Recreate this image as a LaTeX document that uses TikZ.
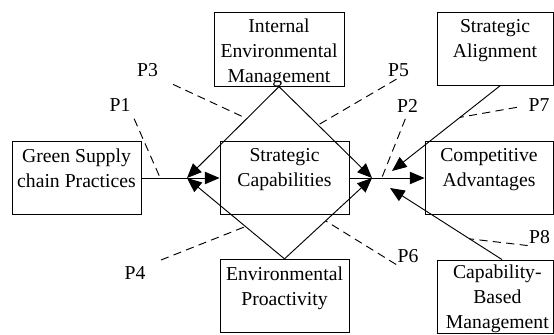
\documentclass[tikz,border=0pt]{standalone}
\usepackage{fontspec}
\setmainfont{Liberation Serif}
\usetikzlibrary{arrows.meta}

\tikzset{
  box/.style     = {shape = rectangle, draw = black, line width = 0.8pt,
                    minimum width = #1, minimum height = 2.2cm, inner sep = 0pt},
  box/.default   = 3.87cm,
  boxtext/.style = {anchor = north, align = center, inner sep = 0pt, yshift = -6.5pt},
  prop/.style    = {inner sep = 1pt},
  arr/.style     = {-{Triangle[length = 12.5pt, width = 10.5pt]}, line width = 0.8pt},
  link/.style    = {dashed, dash pattern = on 7pt off 4.5pt, line width = 0.8pt},
}

\begin{document}
\begin{tikzpicture}[x = 0.03cm, y = -0.03cm, font = \fontsize{16.8}{21.5}\selectfont]
        \useasboundingbox (0, 0) rectangle (554, 335);

        % ------------------------------------------------------------------------
        % Boxes
        \node[box]         at (76.5, 178)    (gscp)  {};
        \node[boxtext]     at (gscp.north)   (gscpt) {Green Supply\\chain Practices};

        \node[box]         at (284.5, 178)   (sc)    {};
        \node[boxtext]     at (sc.north)     (sct)   {Strategic\\Capabilities};

        \node[box = 3.9cm] at (279, 49.5)    (iem)   {};
        \node[boxtext, yshift = 1.5pt] at (iem.north) (iemt) {Internal\\Environmental\\Management};

        \node[box = 3.48cm] at (495, 48.7)   (sa)    {};
        \node[boxtext]     at (sa.north)     (sat)   {Strategic\\Alignment};

        \node[box = 3.84cm] at (489, 178)    (ca)    {};
        \node[boxtext]     at (ca.north)     (cat)   {Competitive\\Advantages};

        \node[box]         at (284.5, 296)   (ep)    {};
        \node[boxtext]     at (ep.north)     (ept)   {Environmental\\Proactivity};

        \node[box = 3.48cm] at (495, 296.7)  (cbm)   {};
        \node[boxtext, xshift = 2pt, yshift = 2.5pt] at (cbm.north) (cbmt) {Capability-\\Based\\Management};

        % ------------------------------------------------------------------------
        % Arrows
        \coordinate (m1) at (187, 178);
        \coordinate (m2) at (372, 178);
        \coordinate (ma) at (392, 171);
        \coordinate (mb) at (390, 188);

        \draw[arr] (gscp.east) -- coordinate[pos = 0.24] (q1) (sc.west);
        \draw[arr] (sc.east)   -- coordinate[pos = 0.43] (q2) (ca.west);
        \draw[arr] (iem.south) -- coordinate[pos = 0.35] (q3) (m1);
        \draw[arr] (iem.south) -- coordinate[pos = 0.42] (q5) (m2);
        \draw[arr] (ep.north)  -- coordinate[pos = 0.40] (q4) (m1);
        \draw[arr] (ep.north)  -- coordinate[pos = 0.47] (q6) (m2);
        \draw[arr] ([xshift = 0.15cm]sa.south)  -- coordinate[pos = 0.37] (q7) (ma);
        \draw[arr] ([xshift = 0.21cm]cbm.north) -- coordinate[pos = 0.29] (q8) (mb);

        % ------------------------------------------------------------------------
        % Propositions
        \node[prop] at (120, 105.5) (p1) {P1};
        \node[prop] at (407.5, 105.5) (p2) {P2};
        \node[prop] at (147.5, 70)  (p3) {P3};
        \node[prop] at (135, 273.5) (p4) {P4};
        \node[prop] at (398.5, 70)  (p5) {P5};
        \node[prop] at (408, 256.5) (p6) {P6};
        \node[prop] at (539, 105.5) (p7) {P7};
        \node[prop] at (539.5, 237.5) (p8) {P8};

        \draw[link, shorten <= 5pt]  (p1.south east) -- (q1);
        \draw[link, shorten <= 5pt]  (p2.south) -- (q2);
        \draw[link, shorten <= 13pt] (p3.south east) -- (q3);
        \draw[link, shorten <= 13pt] (p4.north east) -- (q4);
        \draw[link, shorten <= 2pt]  (p5.south) -- (q5);
        \draw[link]                  (p6.south west) -- (q6);
        \draw[link, shorten <= 9pt]  (p7.west) -- (q7);
        \draw[link]                  (p8.south west) -- (q8);
      \end{tikzpicture}
\end{document}
